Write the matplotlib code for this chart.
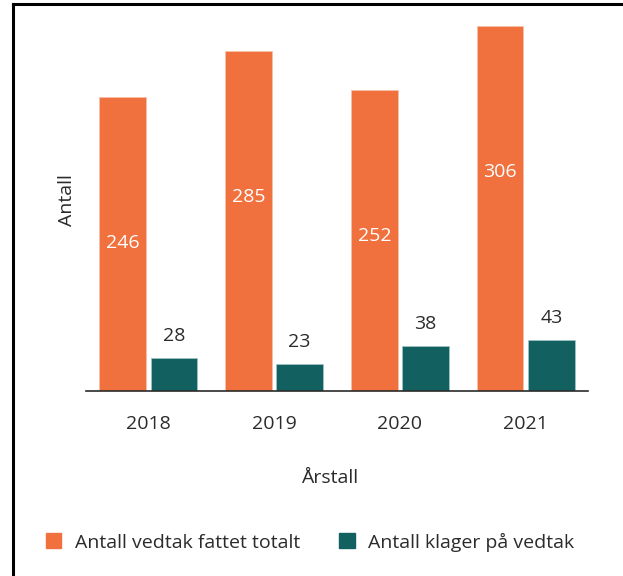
import numpy as np
import matplotlib.pyplot as plt
from matplotlib.patches import Patch
from matplotlib.lines import Line2D

plt.rcParams['font.family'] = ['Open Sans', 'DejaVu Sans']

years = ['2018', '2019', '2020', '2021']
vedtak_totalt = [246, 285, 252, 306]
klager = [28, 23, 38, 43]
legend_labels = ['Antall vedtak fattet totalt', 'Antall klager på vedtak']

orange = '#F0703E'
teal = '#136060'
txt = '#2b2b2b'

fig = plt.figure(figsize=(6.23, 5.76), dpi=100)
ax = fig.add_axes([86 / 623, 1 - 391 / 576, (588 - 86) / 623, 382 / 576])

x = np.arange(len(years))
w = 0.37
off = 0.203
b1 = ax.bar(x - off, vedtak_totalt, w, color=orange, edgecolor='#f6c0a8', linewidth=0.6)
b2 = ax.bar(x + off, klager, w, color=teal, edgecolor='#9cc4c4', linewidth=0.6)

for rect, v in zip(b1, vedtak_totalt):
    ax.annotate(str(v), (rect.get_x() + rect.get_width() / 2, v),
                xytext=(0, -105), textcoords='offset points',
                ha='center', va='center', color='white', fontsize=14)
for rect, v in zip(b2, klager):
    ax.annotate(str(v), (rect.get_x() + rect.get_width() / 2, v),
                xytext=(0, 15.5), textcoords='offset points',
                ha='center', va='center', color=txt, fontsize=14)

ax.set_xlim(-0.495, 3.495)
ax.set_ylim(0, 320)
ax.set_xticks(x)
ax.set_xticklabels(years, fontsize=14, color=txt)
ax.tick_params(axis='x', length=0, pad=17)
ax.set_yticks([])
for s in ['top', 'right', 'left']:
    ax.spines[s].set_visible(False)
ax.spines['bottom'].set_color(txt)
ax.spines['bottom'].set_linewidth(1.2)

fig.text(330 / 623, 1 - 478 / 576, 'Årstall', ha='center', va='center', fontsize=14, color=txt)
fig.text(67 / 623, 1 - 200 / 576, 'Antall', ha='center', va='center', rotation=90, fontsize=14, color=txt)

handles = [Patch(color=orange), Patch(color=teal)]
fig.legend(handles, legend_labels, loc='center', bbox_to_anchor=(310 / 623, 1 - 542 / 576),
           ncol=2, frameon=False, fontsize=14, handlelength=0.8, handleheight=0.8,
           handletextpad=0.7, columnspacing=2.0, labelcolor=txt)

# frame lines (left and top)
fig.add_artist(Line2D([13 / 623, 13 / 623], [0, 1 - 4 / 576], color='black', linewidth=2.2))
fig.add_artist(Line2D([13 / 623, 1], [1 - 4 / 576, 1 - 4 / 576], color='black', linewidth=2.2))

fig.savefig('out.png', dpi=100)
